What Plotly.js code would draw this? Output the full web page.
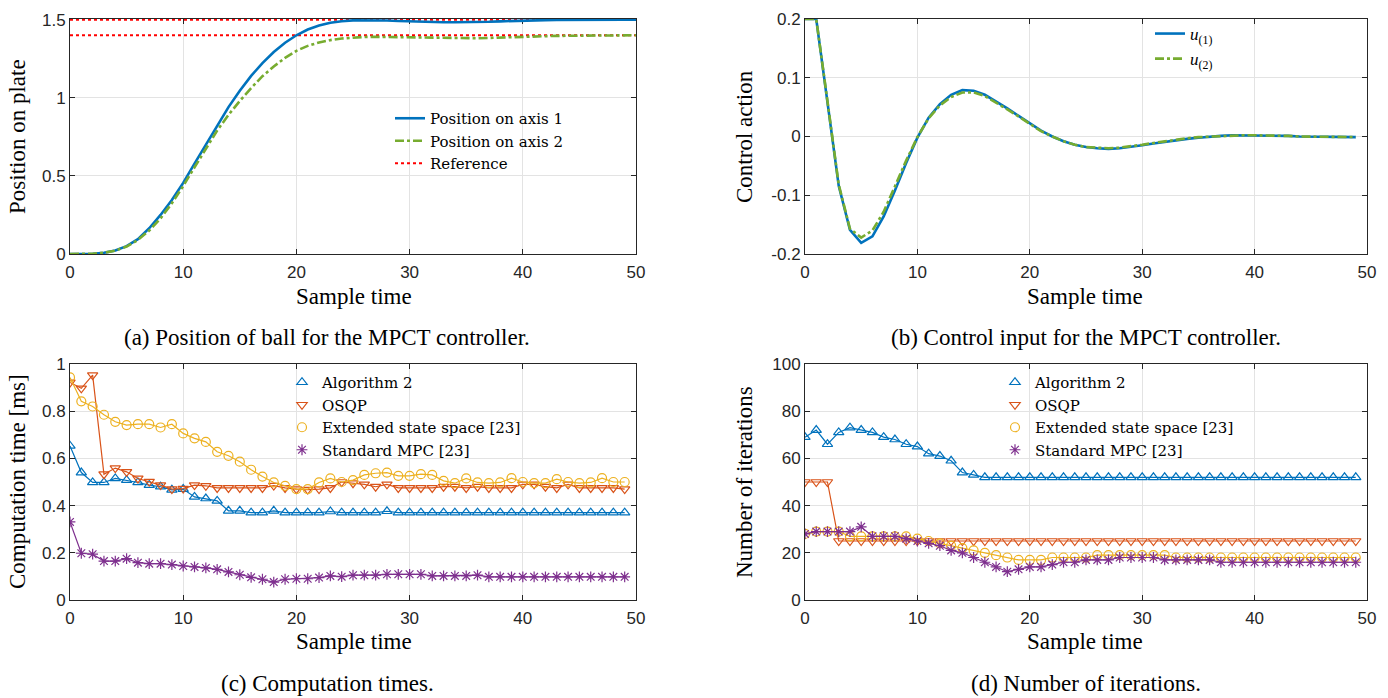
<!DOCTYPE html>
<html>
<head>
<meta charset="utf-8">
<script src="https://cdn.plot.ly/plotly-3.0.1.min.js"></script>
<style>html,body{margin:0;padding:0;background:#fff;}#chart{width:1388px;height:698px;}</style>
</head>
<body>
<div id="chart"></div>
<script>
// ---------- data ----------
const positionTime = [0,1,2,3,4,5,6,7,8,9,10,11,12,13,14,15,16,17,18,19,20,21,22,23,24,25,26,27,28,29,30,31,32,33,34,35,36,37,38,39,40,41,42,43,44,45,46,47,48,49,50];
const positionAxis1 = [0,0,0.002,0.008,0.022,0.05,0.095,0.165,0.25,0.345,0.455,0.578,0.70,0.823,0.94,1.045,1.14,1.222,1.293,1.352,1.40,1.437,1.463,1.48,1.49,1.495,1.496,1.496,1.494,1.491,1.488,1.486,1.484,1.483,1.483,1.483,1.484,1.486,1.489,1.492,1.494,1.496,1.497,1.498,1.499,1.5,1.5,1.5,1.5,1.5,1.5];
const positionAxis2 = [0,0,0.002,0.008,0.021,0.048,0.09,0.15,0.228,0.325,0.435,0.555,0.675,0.79,0.89,0.98,1.062,1.138,1.2,1.255,1.30,1.332,1.354,1.369,1.379,1.385,1.389,1.39,1.389,1.387,1.385,1.383,1.381,1.38,1.38,1.38,1.381,1.383,1.386,1.388,1.39,1.392,1.394,1.396,1.397,1.398,1.399,1.4,1.4,1.4,1.4];
const referenceTime = [0,50];
const referenceLevels = [1.5,1.4];

const sampleTime = [0,1,2,3,4,5,6,7,8,9,10,11,12,13,14,15,16,17,18,19,20,21,22,23,24,25,26,27,28,29,30,31,32,33,34,35,36,37,38,39,40,41,42,43,44,45,46,47,48,49];
const controlU1 = [0.2,0.2,0.058,-0.084,-0.159,-0.181,-0.170,-0.136,-0.092,-0.045,-0.002,0.032,0.055,0.071,0.079,0.078,0.071,0.06,0.048,0.035,0.022,0.01,0.0,-0.008,-0.014,-0.018,-0.02,-0.021,-0.02,-0.018,-0.015,-0.012,-0.009,-0.006,-0.004,-0.002,0.0,0.001,0.002,0.002,0.002,0.002,0.001,0.001,0.0,0.0,-0.0005,-0.001,-0.001,-0.001];
const controlU2 = [0.2,0.2,0.06,-0.082,-0.157,-0.172,-0.160,-0.128,-0.085,-0.041,-0.001,0.031,0.053,0.067,0.075,0.075,0.069,0.058,0.046,0.034,0.021,0.009,0.0,-0.008,-0.014,-0.018,-0.019,-0.02,-0.019,-0.017,-0.014,-0.011,-0.008,-0.006,-0.003,-0.001,0.0,0.001,0.002,0.002,0.002,0.002,0.001,0.001,0.0,0.0,0.0,-0.001,-0.001,-0.001];

const timeAlgorithm2 = [0.653,0.54,0.498,0.498,0.515,0.508,0.498,0.487,0.48,0.467,0.47,0.437,0.43,0.42,0.378,0.378,0.37,0.37,0.378,0.37,0.37,0.37,0.37,0.375,0.37,0.37,0.37,0.37,0.376,0.37,0.37,0.37,0.37,0.37,0.37,0.37,0.37,0.37,0.37,0.37,0.37,0.37,0.37,0.37,0.37,0.37,0.37,0.37,0.37,0.37];
const timeOSQP = [0.922,0.897,0.953,0.533,0.559,0.543,0.515,0.502,0.487,0.47,0.472,0.487,0.484,0.475,0.475,0.475,0.475,0.475,0.485,0.475,0.47,0.468,0.47,0.475,0.5,0.495,0.49,0.48,0.49,0.475,0.475,0.475,0.475,0.48,0.48,0.475,0.48,0.475,0.475,0.475,0.49,0.49,0.48,0.475,0.49,0.475,0.475,0.475,0.475,0.47];
const timeExtended = [0.943,0.842,0.82,0.785,0.755,0.741,0.745,0.745,0.731,0.745,0.706,0.685,0.67,0.628,0.611,0.586,0.552,0.523,0.498,0.484,0.47,0.47,0.498,0.515,0.5,0.508,0.53,0.537,0.54,0.526,0.526,0.533,0.53,0.505,0.495,0.515,0.498,0.495,0.498,0.516,0.5,0.495,0.495,0.512,0.5,0.495,0.498,0.516,0.5,0.5];
const timeStandard = [0.331,0.198,0.194,0.165,0.165,0.175,0.158,0.154,0.154,0.15,0.144,0.14,0.136,0.13,0.119,0.107,0.096,0.088,0.076,0.088,0.09,0.09,0.095,0.102,0.099,0.105,0.105,0.105,0.109,0.109,0.109,0.109,0.102,0.102,0.102,0.102,0.105,0.098,0.098,0.098,0.098,0.098,0.098,0.098,0.098,0.098,0.098,0.098,0.098,0.098];

const iterAlgorithm2 = [69,72,66,71,73,72,71,69,68,66,65,62,61,59,54,53,52,52,52,52,52,52,52,52,52,52,52,52,52,52,52,52,52,52,52,52,52,52,52,52,52,52,52,52,52,52,52,52,52,52];
const iterOSQP = [50,50,50,25,25,25,25,25,25,25,25,25,25,25,25,25,25,25,25,25,25,25,25,25,25,25,25,25,25,25,25,25,25,25,25,25,25,25,25,25,25,25,25,25,25,25,25,25,25,25];
const iterExtended = [28,29,29,29,27,27,27,27,27,27,26,25,24,23,22,21,20,19,18,17,17,17,18,18,18,18,19,19,19,19,19,19,19,18,18,18,18,18,18,18,18,18,18,18,18,18,18,18,18,18];
const iterStandard = [28,29,29,29,29,31,27,27,27,26,25,24,23,21,20,18,16,14,12,13,14,14,15,16,16,17,17,17,18,18,18,18,17,17,17,17,17,16,16,16,16,16,16,16,16,16,16,16,16,16];

const posTicks = [0,0.5,1,1.5];
const posTickText = ['0','0.5','1','1.5'];
const ctrlTicks = [-0.2,-0.1,0,0.1,0.2];
const ctrlTickText = ['-0.2','-0.1','0','0.1','0.2'];
const compTicks = [0,0.2,0.4,0.6,0.8,1];
const compTickText = ['0','0.2','0.4','0.6','0.8','1'];
const iterTicks = [0,20,40,60,80,100];
const iterTickText = ['0','20','40','60','80','100'];
const timeTicks = [0,10,20,30,40,50];

const xTitle = 'Sample time';
const yTitles = ['Position on plate','Control action','Computation time [ms]','Number of iterations'];
const seriesNames = ['Algorithm 2','OSQP','Extended state space [23]','Standard MPC [23]'];
const captions = ['(a) Position of ball for the MPCT controller.','(b) Control input for the MPCT controller.','(c) Computation times.','(d) Number of iterations.'];

// ---------- styles ----------
const BLUE='#0072BD', ORANGE='#D95319', YELLOW='#EDB120', PURPLE='#7E2F8E', GREEN='#77AC30', RED='#FF0000';
const SERIF='Liberation Serif';
const LEGSERIF='DejaVu Serif';
const SANS='Liberation Sans';
const W=1388, H=698;
const px=(v)=>v/W, py=(v)=>1-v/H;

function axisBase(extra){
  return Object.assign({
    showline:true, mirror:'ticks', linecolor:'#262626', linewidth:1,
    ticks:'inside', ticklen:5, tickcolor:'#262626', tickwidth:1,
    showgrid:true, gridcolor:'#e3e3e3', gridwidth:1, zeroline:false,
    tickfont:{family:SANS, size:17, color:'#262626'},
    fixedrange:true
  }, extra);
}
function xAxis(domain, anchor, layer){
  return axisBase({domain:domain, anchor:anchor, range:[0,50], tickvals:timeTicks, ticklabelstandoff:3, layer:layer||'above traces'});
}
function yAxis(domain, anchor, range, vals, text, layer){
  return axisBase({domain:domain, anchor:anchor, range:range, tickvals:vals, ticktext:text, layer:layer||'above traces'});
}

const traces = [];
// (a)
traces.push({x:referenceTime, y:[referenceLevels[0],referenceLevels[0]], mode:'lines', line:{color:RED,width:2,dash:'dot'}, name:'Reference', legend:'legend', legendrank:3, xaxis:'x', yaxis:'y'});
traces.push({x:referenceTime, y:[referenceLevels[1],referenceLevels[1]], mode:'lines', line:{color:RED,width:2,dash:'dot'}, name:'Reference', showlegend:false, xaxis:'x', yaxis:'y'});
traces.push({x:positionTime, y:positionAxis1, mode:'lines', line:{color:BLUE,width:2.6}, name:'Position on axis 1', legend:'legend', legendrank:1, xaxis:'x', yaxis:'y'});
traces.push({x:positionTime, y:positionAxis2, mode:'lines', line:{color:GREEN,width:2.6,dash:'dashdot'}, name:'Position on axis 2', legend:'legend', legendrank:2, xaxis:'x', yaxis:'y'});
// (b)
traces.push({x:sampleTime, y:controlU1, mode:'lines', line:{color:BLUE,width:2.6}, name:'<i>u</i><sub>(1)</sub>', legend:'legend2', xaxis:'x2', yaxis:'y2'});
traces.push({x:sampleTime, y:controlU2, mode:'lines', line:{color:GREEN,width:2.6,dash:'dashdot'}, name:'<i>u</i><sub>(2)</sub>', legend:'legend2', xaxis:'x2', yaxis:'y2'});

const markerSpecs = [
  {color:BLUE, symbol:'triangle-up-open'},
  {color:ORANGE, symbol:'triangle-down-open'},
  {color:YELLOW, symbol:'circle-open'},
  {color:PURPLE, symbol:'asterisk-open'}
];
const compSeries = [timeAlgorithm2,timeOSQP,timeExtended,timeStandard];
const iterSeries = [iterAlgorithm2,iterOSQP,iterExtended,iterStandard];
[[compSeries,'x3','y3','legend3'],[iterSeries,'x4','y4','legend4']].forEach(([series,xa,ya,lg])=>{
  series.forEach((vals,i)=>{
    const m = markerSpecs[i];
    traces.push({x:sampleTime, y:vals, mode:'lines+markers', line:{color:m.color,width:1.2},
      marker:{symbol:m.symbol, size:9, color:m.color, line:{color:m.color,width:1.2}},
      showlegend:false, xaxis:xa, yaxis:ya, name:seriesNames[i]});
  });
  series.forEach((vals,i)=>{
    const m = markerSpecs[i];
    traces.push({x:[null], y:[null], mode:'markers',
      marker:{symbol:m.symbol, size:9, color:m.color, line:{color:m.color,width:1.2}},
      name:seriesNames[i], legend:lg, xaxis:xa, yaxis:ya});
  });
});

function legendAt(xpx, ypx, size, fam){
  return {bgcolor:'rgba(0,0,0,0)', borderwidth:0, font:{family:fam||LEGSERIF,size:size||15,color:'#000'},
    xanchor:'left', yanchor:'top', itemclick:false, itemdoubleclick:false, tracegroupgap:0,
    x:px(xpx), y:py(ypx)};
}

const dA = {x:[px(70),px(636)], y:[py(254),py(19)]};
const dB = {x:[px(805),px(1367)], y:[py(254),py(19)]};
const dC = {x:[px(70),px(636)], y:[py(600),py(364)]};
const dD = {x:[px(805),px(1367)], y:[py(600),py(364)]};

function paperText(text, xc, yc, size, angle){
  return {text:text, x:px(xc), y:py(yc), xref:'paper', yref:'paper', showarrow:false, textangle:angle||0,
    font:{family:SERIF,size:size,color:'#000'}, xanchor:'center', yanchor:'middle'};
}

const layout = {
  width:W, height:H, margin:{l:0,r:0,t:0,b:0}, paper_bgcolor:'#fff', plot_bgcolor:'#fff',
  font:{family:SERIF, size:23, color:'#000'},
  showlegend:true,
  xaxis: xAxis(dA.x, 'y', 'below traces'),
  yaxis: yAxis(dA.y, 'x', [0,1.504], posTicks, posTickText, 'below traces'),
  xaxis2: xAxis(dB.x, 'y2'),
  yaxis2: yAxis(dB.y, 'x2', [-0.2,0.2], ctrlTicks, ctrlTickText),
  xaxis3: xAxis(dC.x, 'y3'),
  yaxis3: yAxis(dC.y, 'x3', [0,1], compTicks, compTickText),
  xaxis4: xAxis(dD.x, 'y4'),
  yaxis4: yAxis(dD.y, 'x4', [0,100], iterTicks, iterTickText),
  legend: legendAt(390, 102),
  legend2: legendAt(1150, 16, 17, SERIF),
  legend3: legendAt(282, 366),
  legend4: legendAt(995, 366),
  annotations: [
    paperText(xTitle, 354, 296, 23),
    paperText(xTitle, 1085, 296, 23),
    paperText(xTitle, 354, 641, 23),
    paperText(xTitle, 1085, 641, 23),
    paperText(yTitles[0], 18, 137, 23, -90),
    paperText(yTitles[1], 745, 137, 23, -90),
    paperText(yTitles[2], 18, 482, 23, -90),
    paperText(yTitles[3], 745, 482, 23, -90),
    paperText(captions[0], 327, 338, 23),
    paperText(captions[1], 1086, 338, 23),
    paperText(captions[2], 327, 683, 23),
    paperText(captions[3], 1086, 683, 23)
  ]
};

Plotly.newPlot('chart', traces, layout, {displayModeBar:false, staticPlot:true});
</script>
</body>
</html>
